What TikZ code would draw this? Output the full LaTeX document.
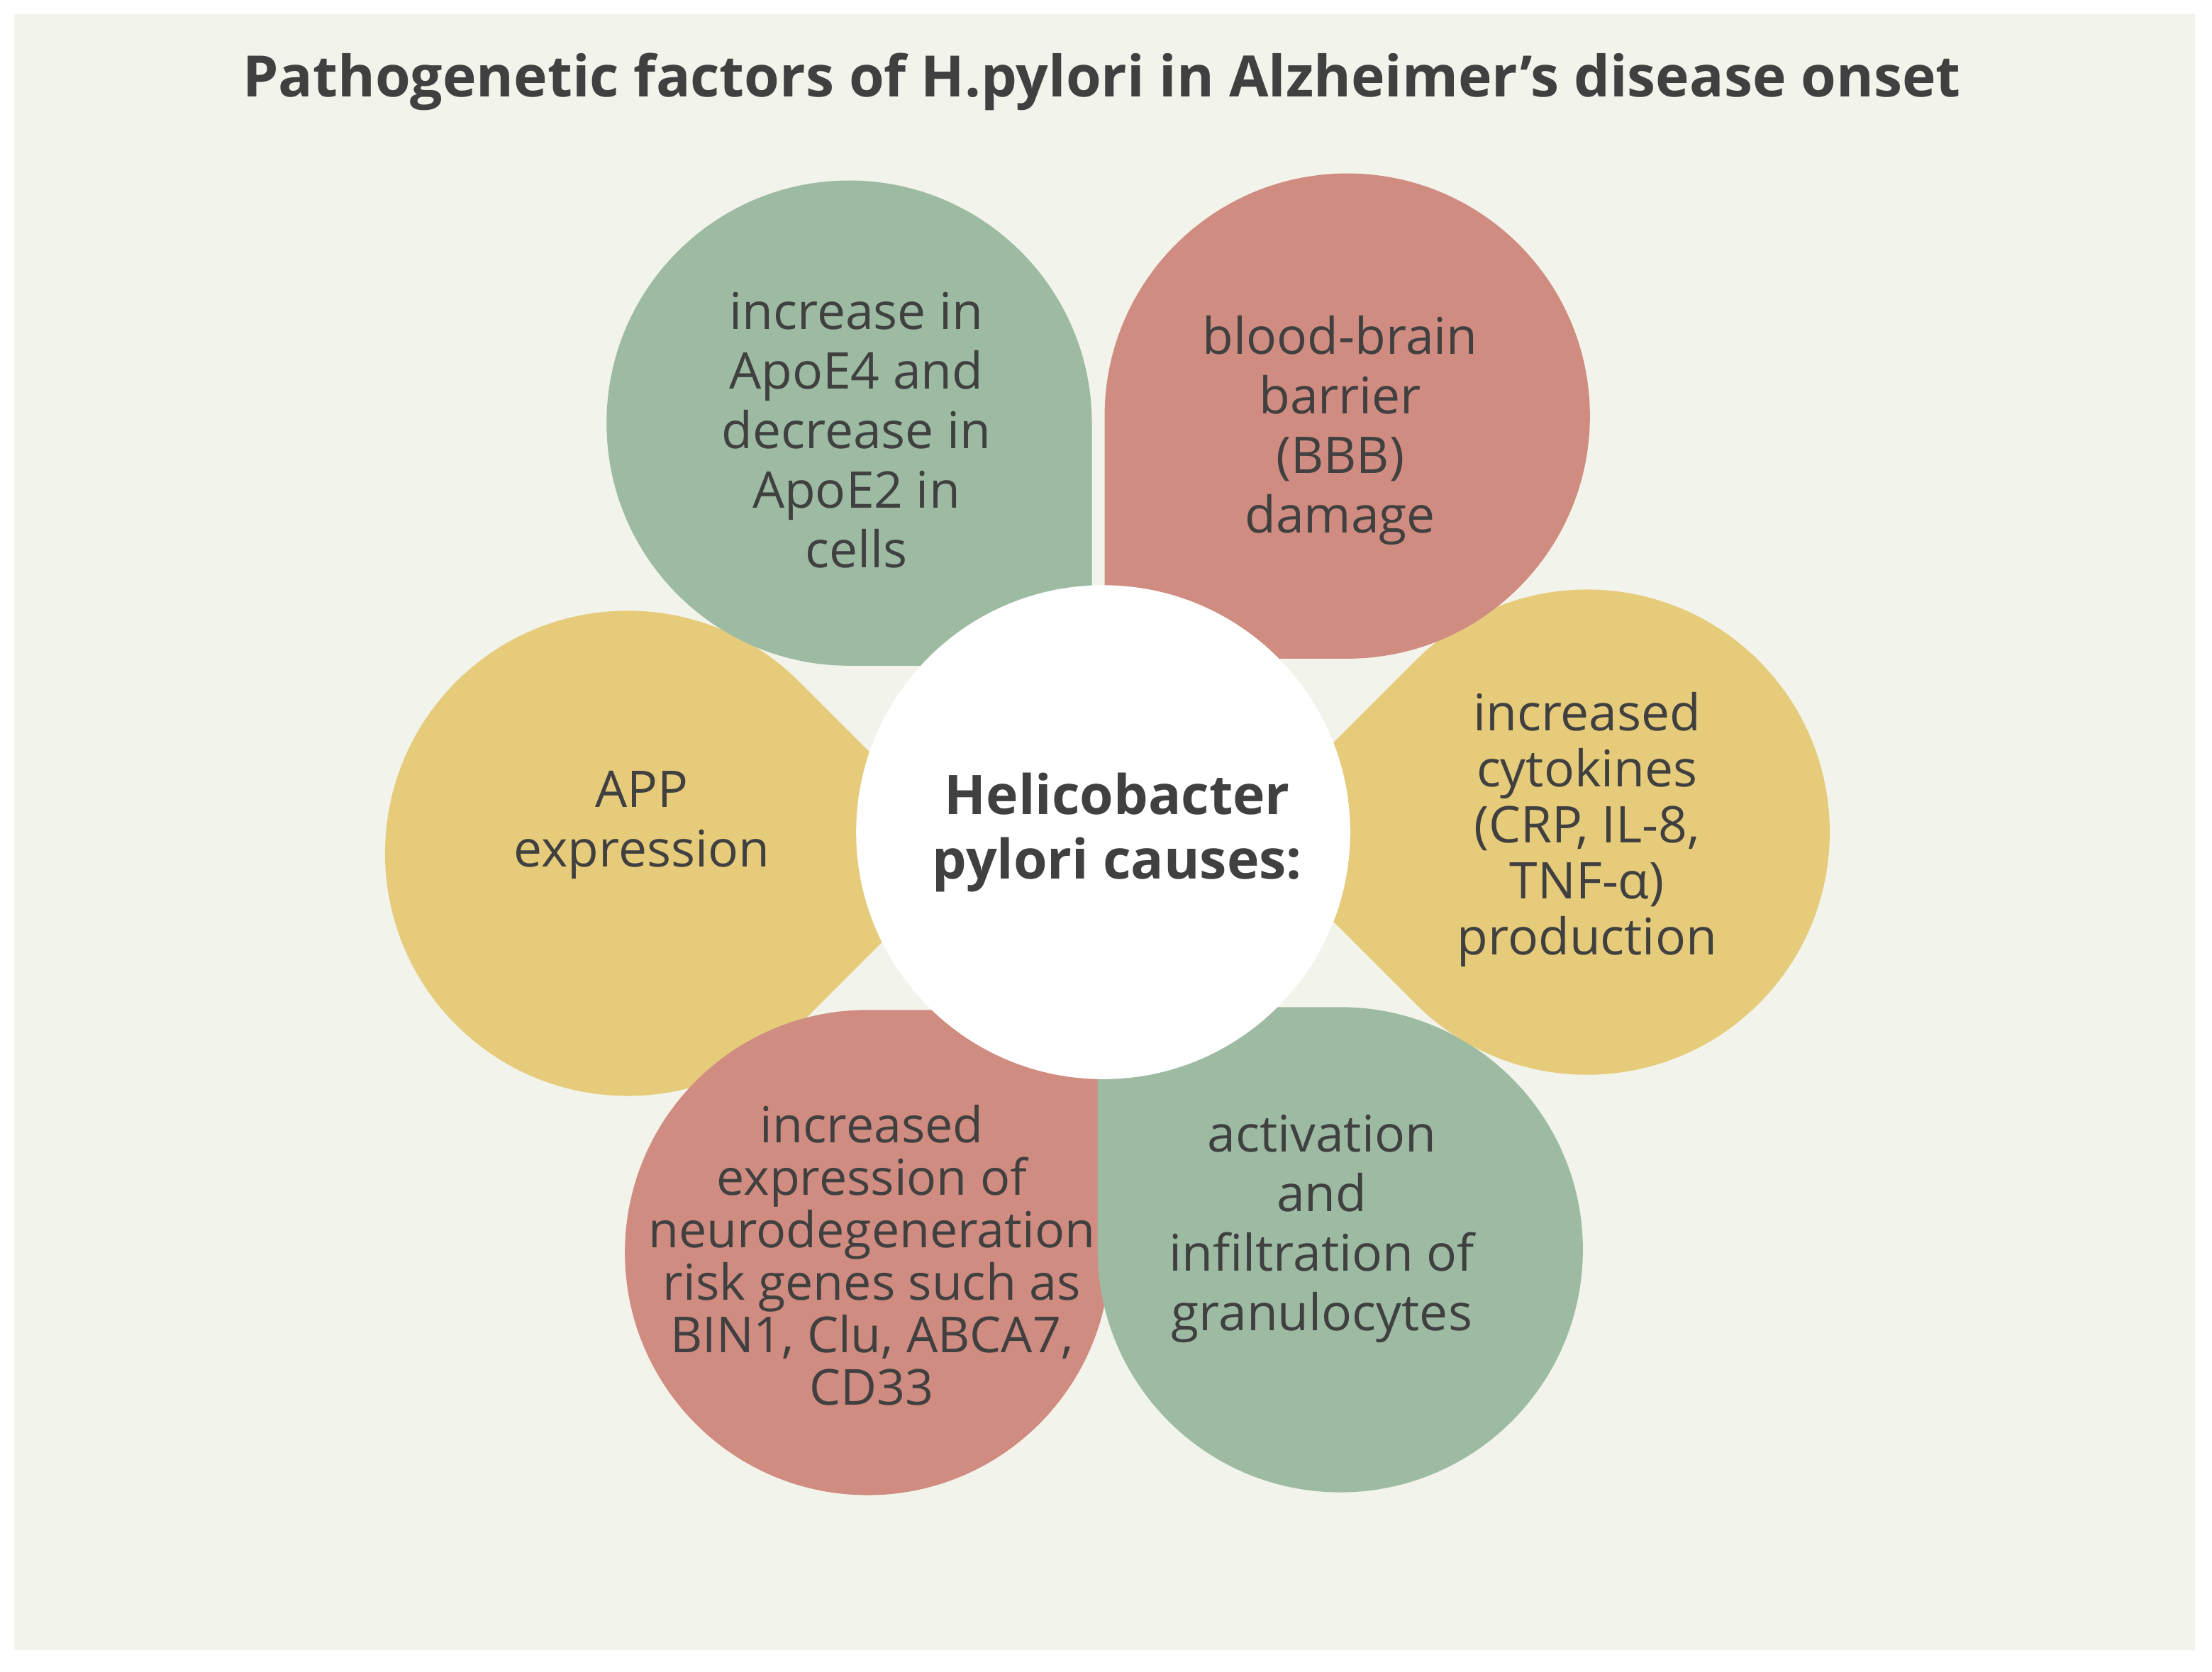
\documentclass[tikz,border=0pt]{standalone}
\usepackage{fontspec}
\setmainfont{Open Sans}
\begin{document}
\definecolor{bg}{HTML}{F2F3EA}
\definecolor{pg}{HTML}{9DBBA3}
\definecolor{pr}{HTML}{D08C80}
\definecolor{py}{HTML}{E5CB7A}
\definecolor{tx}{HTML}{404040}
\begin{tikzpicture}[x=0.01cm,y=-0.01cm,
  lab/.style={align=center,text=tx,font=\fontsize{10.2pt}{12pt}\selectfont}]
\useasboundingbox (0,0) rectangle (1568,1185);
\fill[white] (0,0) rectangle (1568,1185);
\fill[bg] (10,10) rectangle (1556,1170);
\node[font=\bfseries\fontsize{11.5pt}{13pt}\selectfont,text=tx] (title) at (781,58) {Pathogenetic factors of H.pylori in Alzheimer’s disease onset};
\newcommand{\pet}[4]{\fill[#4] (#1,#2) ++({-(#3)}:243.2) -- ++({-(#3)+135}:172) arc[start angle={-(#3)+45},delta angle=270,radius=172] -- cycle;}
\pet{445}{605}{0}{py}
\pet{615}{888}{45}{pr}
\pet{950}{886}{135}{pg}
\pet{1125}{590}{180}{py}
\pet{955}{295}{225}{pr}
\pet{602}{300}{315}{pg}
\node[circle,fill=white,minimum size=3.5cm,inner sep=0pt] (c) at (782,590) {};
\node[font=\bfseries\fontsize{11pt}{13pt}\selectfont,text=tx,align=center] (ct) at (792,590) {Helicobacter\\pylori causes:};
\node[lab] (a) at (607,305) {increase in\\ApoE4 and\\decrease in\\ApoE2 in\\cells};
\node[lab] (b) at (950,305) {blood-brain\\barrier\\(BBB)\\damage};
\node[lab,font=\fontsize{10.2pt}{11.3pt}\selectfont] (d) at (1125,588) {increased\\cytokines\\(CRP, IL-8,\\TNF-α)\\production};
\node[lab] (e) at (937,871) {activation\\and\\infiltration of\\granulocytes};
\node[lab,font=\fontsize{10pt}{10.6pt}\selectfont] (f) at (618,890) {increased\\expression of\\neurodegeneration\\risk genes such as\\BIN1, Clu, ABCA7,\\CD33};
\node[lab] (g) at (455,585) {APP\\expression};
\end{tikzpicture}
\end{document}
